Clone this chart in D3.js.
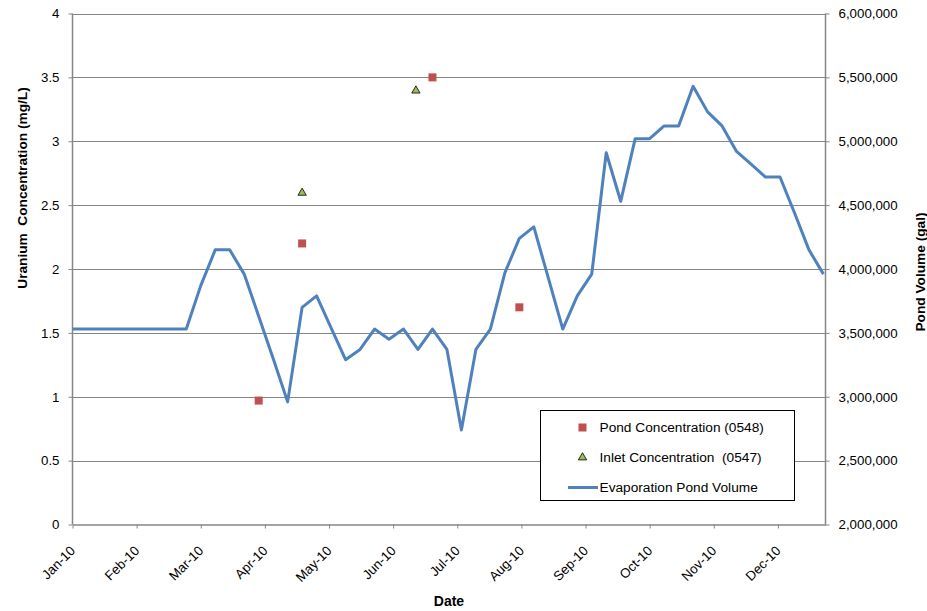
<!DOCTYPE html>
<html>
<head>
<meta charset="utf-8">
<script src="https://cdn.jsdelivr.net/npm/d3@7"></script>
<style>
  html, body { margin: 0; padding: 0; background: #fff; }
  svg { display: block; font-family: "Liberation Sans", Arial, sans-serif; }
</style>
</head>
<body>
<svg id="chart" width="927" height="611"></svg>
<script>
// Weekly evaporation pond volume (gal)
const volumeDates = [
  "2010-01-01",
  "2010-01-07", "2010-01-14", "2010-01-21", "2010-01-28",
  "2010-02-04", "2010-02-11", "2010-02-18", "2010-02-25",
  "2010-03-04", "2010-03-11", "2010-03-18", "2010-03-25",
  "2010-04-01", "2010-04-08", "2010-04-15", "2010-04-22", "2010-04-29",
  "2010-05-06", "2010-05-13", "2010-05-20", "2010-05-27",
  "2010-06-03", "2010-06-10", "2010-06-17", "2010-06-24",
  "2010-07-01", "2010-07-08", "2010-07-15", "2010-07-22", "2010-07-29",
  "2010-08-05", "2010-08-12", "2010-08-19", "2010-08-26",
  "2010-09-02", "2010-09-09", "2010-09-16", "2010-09-23", "2010-09-30",
  "2010-10-07", "2010-10-14", "2010-10-21", "2010-10-28",
  "2010-11-04", "2010-11-11", "2010-11-18", "2010-11-25",
  "2010-12-02", "2010-12-09", "2010-12-16", "2010-12-23", "2010-12-30"
];
const volumeGal = [
  3530000,
  3530000, 3530000, 3530000, 3530000,
  3530000, 3530000, 3530000, 3530000,
  3870000, 4150000, 4150000, 3960000,
  3630000, 3300000, 2960000, 3700000, 3790000,
  3540000, 3290000, 3370000, 3530000,
  3450000, 3530000, 3370000, 3530000,
  3370000, 2740000, 3370000, 3530000, 3970000,
  4240000, 4330000, 3930000, 3530000,
  3790000, 3960000, 4910000, 4530000, 5020000,
  5020000, 5120000, 5120000, 5430000,
  5230000, 5120000, 4920000, 4820000,
  4720000, 4720000, 4440000, 4150000, 3960000
];

// Uranium concentration samples (mg/L)
const pondDates = ["2010-04-01", "2010-04-22", "2010-06-24", "2010-08-05"];
const pondConc = [0.97, 2.2, 3.5, 1.7];
const inletDates = ["2010-04-22", "2010-06-16"];
const inletConc = [2.6, 3.4];

// Axis labels
const monthLabels = ["Jan-10", "Feb-10", "Mar-10", "Apr-10", "May-10", "Jun-10",
                     "Jul-10", "Aug-10", "Sep-10", "Oct-10", "Nov-10", "Dec-10"];
const concTicks = [0, 0.5, 1, 1.5, 2, 2.5, 3, 3.5, 4];
const volTicks = [2000000, 2500000, 3000000, 3500000, 4000000, 4500000, 5000000, 5500000, 6000000];
const legendLabels = ["Pond Concentration (0548)", "Inlet Concentration  (0547)", "Evaporation Pond Volume"];

const parse = d3.utcParse("%Y-%m-%d");
const svg = d3.select("#chart");

const plotLeft = 72.5, plotRight = 825.5, plotTop = 13.5, plotBottom = 524.5;
const start = parse("2010-01-01"), end = parse("2010-12-31");

const x = d3.scaleUtc().domain([start, end]).range([plotLeft, plotRight]);
const yC = d3.scaleLinear().domain([0, 4]).range([plotBottom, plotTop]);
const yV = d3.scaleLinear().domain([2000000, 6000000]).range([plotBottom, plotTop]);

const gridColor = "#868686";
const axisColor = "#868686";
const font = "13.3px";
const titleFont = "13.7px";

// Horizontal gridlines
svg.append("g").selectAll("line").data(concTicks.slice(1)).join("line")
  .attr("x1", plotLeft).attr("x2", plotRight)
  .attr("y1", d => Math.round(yC(d)) + 0.5).attr("y2", d => Math.round(yC(d)) + 0.5)
  .attr("stroke", gridColor).attr("stroke-width", 1);

// Left axis
const leftAxis = svg.append("g").attr("transform", `translate(${plotLeft},0)`)
  .call(d3.axisLeft(yC).tickValues(concTicks).tickFormat(d3.format("")).tickSize(4).tickPadding(9));
leftAxis.selectAll("text").attr("font-size", font).attr("fill", "#000")
  .attr("font-family", "Liberation Sans, Arial, sans-serif");

// Right axis
const rightAxis = svg.append("g").attr("transform", `translate(${plotRight},0)`)
  .call(d3.axisRight(yV).tickValues(volTicks).tickFormat(d3.format(",")).tickSize(4).tickPadding(9));
rightAxis.selectAll("text").attr("font-size", font).attr("fill", "#000")
  .attr("font-family", "Liberation Sans, Arial, sans-serif");

// Bottom axis: ticks every 31 days from the start of the year
const monthTicks = monthLabels.map((_, i) => d3.utcDay.offset(start, 31 * i));
const bottomAxis = svg.append("g").attr("transform", `translate(0,${plotBottom})`)
  .call(d3.axisBottom(x).tickValues(monthTicks).tickFormat((d, i) => monthLabels[i]).tickSize(4).tickSizeOuter(0));
bottomAxis.selectAll("text")
  .attr("font-size", font).attr("fill", "#000")
  .attr("font-family", "Liberation Sans, Arial, sans-serif")
  .attr("text-anchor", "end")
  .attr("y", 0).attr("dy", 0)
  .attr("transform", "translate(3,27) rotate(-45)");

[leftAxis, rightAxis, bottomAxis].forEach(g => {
  g.select(".domain").attr("stroke", axisColor).attr("stroke-width", 1.5);
  g.selectAll(".tick line").attr("stroke", axisColor);
});
// left and right axis lines span the full plot height
leftAxis.select(".domain").attr("d", `M0,${plotTop}V${plotBottom}`);
rightAxis.select(".domain").attr("d", `M0,${plotTop}V${plotBottom}`);

// Evaporation pond volume line
const volData = volumeDates.map((d, i) => ({ date: parse(d), v: volumeGal[i] }));
svg.append("path").datum(volData)
  .attr("fill", "none").attr("stroke", "#4F81BD").attr("stroke-width", 3)
  .attr("stroke-linejoin", "round")
  .attr("d", d3.line().x(d => x(d.date)).y(d => yV(d.v)));

// Pond concentration squares
svg.append("g").selectAll("rect").data(pondDates.map((d, i) => ({ date: parse(d), c: pondConc[i] }))).join("rect")
  .attr("x", d => x(d.date) - 4).attr("y", d => yC(d.c) - 4)
  .attr("width", 8).attr("height", 8).attr("fill", "#C0504D");

// Inlet concentration triangles
const tri = d3.symbol().type(d3.symbolTriangle).size(30);
svg.append("g").selectAll("path").data(inletDates.map((d, i) => ({ date: parse(d), c: inletConc[i] }))).join("path")
  .attr("transform", d => `translate(${x(d.date)},${yC(d.c) + 0.5})`)
  .attr("d", tri).attr("fill", "#9BBB59").attr("stroke", "#000").attr("stroke-width", 0.8);

// Axis titles
svg.append("text").attr("x", 449).attr("y", 606).attr("text-anchor", "middle")
  .attr("font-size", "14px").attr("font-weight", "bold").text("Date");
svg.append("text").attr("transform", "translate(27,188) rotate(-90)").attr("text-anchor", "middle")
  .attr("font-size", titleFont).attr("font-weight", "bold")
  .style("white-space", "pre").text("Uranium  Concentration (mg/L)");
svg.append("text").attr("transform", "translate(925,272) rotate(-90)").attr("text-anchor", "middle")
  .attr("font-size", titleFont).attr("font-weight", "bold").text("Pond Volume (gal)");

// Legend
const lg = svg.append("g");
lg.append("rect").attr("x", 540.5).attr("y", 410.5).attr("width", 254).attr("height", 90)
  .attr("fill", "#fff").attr("stroke", "#000").attr("stroke-width", 1);
const rowY = [427.5, 457.5, 487.5];
lg.append("rect").attr("x", 578.5).attr("y", rowY[0] - 4).attr("width", 8).attr("height", 8).attr("fill", "#C0504D");
lg.append("path").attr("transform", `translate(582.5,${rowY[1]})`).attr("d", tri)
  .attr("fill", "#9BBB59").attr("stroke", "#000").attr("stroke-width", 0.8);
lg.append("line").attr("x1", 568).attr("x2", 598).attr("y1", rowY[2]).attr("y2", rowY[2])
  .attr("stroke", "#4F81BD").attr("stroke-width", 3);
lg.selectAll("text.lbl").data(legendLabels).join("text").attr("class", "lbl")
  .attr("x", 599.5).attr("y", (d, i) => rowY[i]).attr("dy", "0.35em")
  .attr("font-size", titleFont).style("white-space", "pre").text(d => d);
</script>
</body>
</html>
